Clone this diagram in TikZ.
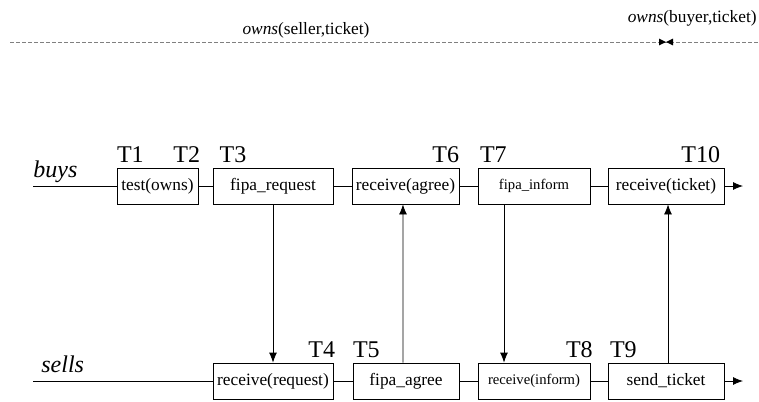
\documentclass[tikz,border=0pt]{standalone}
\usepackage{fontspec}
\setmainfont{Liberation Serif}
\usetikzlibrary{arrows,arrows.meta}

\begin{document}
\begin{tikzpicture}
	[x=0.75pt,y=-0.75pt,line width=0.6pt,every node/.style={inner sep=0pt},
	act/.style={draw,rectangle,minimum height=27pt,font=\fontsize{13}{15}\selectfont},
	small/.style={font=\fontsize{11}{13}\selectfont},
	tlab/.style={font=\fontsize{18}{20}\selectfont},
	lane/.style={font=\fontsize{18}{20}\selectfont\itshape,anchor=base west},
	fact/.style={font=\fontsize{13}{15}\selectfont},
	msg/.style={-{Latex[length=7.5pt,width=6pt]}}]
	\useasboundingbox (0,0) rectangle (759,401);
	% time line
	\coordinate (d0) at (10,42);
	\coordinate (d1) at (759,42);
	\coordinate (m) at (666,42);
	\draw[gray,dash pattern=on 3pt off 1.5pt] (d0) -- (d1);
	\fill ([xshift=-5.25pt,yshift=2.6pt]m) -- (m) -- ([xshift=-5.25pt,yshift=-2.6pt]m) -- cycle;
	\fill ([xshift=5.25pt,yshift=2.6pt]m) -- (m) -- ([xshift=5.25pt,yshift=-2.6pt]m) -- cycle;
	\node[fact,anchor=base] (seller) at (306,34) {\textit{owns}(seller,ticket)};
	\node[fact,anchor=base east] (buyer) at (757,22) {\textit{owns}(buyer,ticket)};
	
	% buyer
	\node[lane] (buys) at (33,177) {buys};
	\coordinate (b0) at (33,186);
	\node[act,minimum width=60.75pt] (test) at (157.5,186) {test(owns)};
	\node[act,minimum width=90pt] (request) at (273,186) {fipa\_request};
	\node[act,minimum width=80.25pt] (ragree) at (405.5,186) {receive(agree)};
	\node[act,small,minimum width=84pt] (inform) at (534,186) {fipa\_inform};
	\node[act,minimum width=87pt] (rticket) at (666,186) {receive(ticket)};
	\coordinate (bend) at (743,186);
	
	% seller
	\node[lane] (sells) at (41,372) {sells};
	\coordinate (s0) at (33,381);
	\node[act,minimum width=90pt] (rrequest) at (273,381) {receive(request)};
	\node[act,minimum width=79.5pt] (agree) at (406,381) {fipa\_agree};
	\node[act,small,minimum width=84pt] (rinform) at (534,381) {receive(inform)};
	\node[act,minimum width=87pt] (ticket) at (666,381) {send\_ticket};
	\coordinate (send) at (743,381);
	
	% times
	\node[tlab,anchor=base west] (t1) at ([yshift=3.75pt]test.north west) {T1};
	\node[tlab,anchor=base east] (t2) at ([xshift=1.5pt,yshift=3.75pt]test.north east) {T2};
	\node[tlab,anchor=base west] (t3) at ([xshift=5pt,yshift=3.75pt]request.north west) {T3};
	\node[tlab,anchor=base east] (t6) at ([yshift=3.75pt]ragree.north east) {T6};
	\node[tlab,anchor=base west] (t7) at ([xshift=1.5pt,yshift=3.75pt]inform.north west) {T7};
	\node[tlab,anchor=base east] (t10) at ([xshift=-3pt,yshift=3.75pt]rticket.north east) {T10};
	\node[tlab,anchor=base east] (t4) at ([xshift=1.5pt,yshift=3.5pt]rrequest.north east) {T4};
	\node[tlab,anchor=base west] (t5) at ([yshift=3.5pt]agree.north west) {T5};
	\node[tlab,anchor=base east] (t8) at ([xshift=2pt,yshift=3.5pt]rinform.north east) {T8};
	\node[tlab,anchor=base west] (t9) at ([xshift=1.5pt,yshift=3.5pt]ticket.north west) {T9};
	
	\foreach \from/\to in
	{b0/test, test/request, request/ragree, ragree/inform, inform/rticket,
	s0/rrequest, rrequest/agree, agree/rinform, rinform/ticket}
	\draw (\from) -- (\to);
	\foreach \from/\to in {rticket/bend, ticket/send}
	\draw[msg] (\from) -- (\to);
	
	% messages
	\draw[msg] (request) -- (rrequest);
	\draw[msg] ([xshift=-2.25pt]agree.north) -- ([xshift=-1.9pt]ragree.south);
	\draw[msg] ([xshift=-22.5pt]inform.south) -- ([xshift=-22.5pt]rinform.north);
	\draw[msg] ([xshift=1.5pt]ticket.north) -- ([xshift=1.5pt]rticket.south);
\end{tikzpicture}
\end{document}
